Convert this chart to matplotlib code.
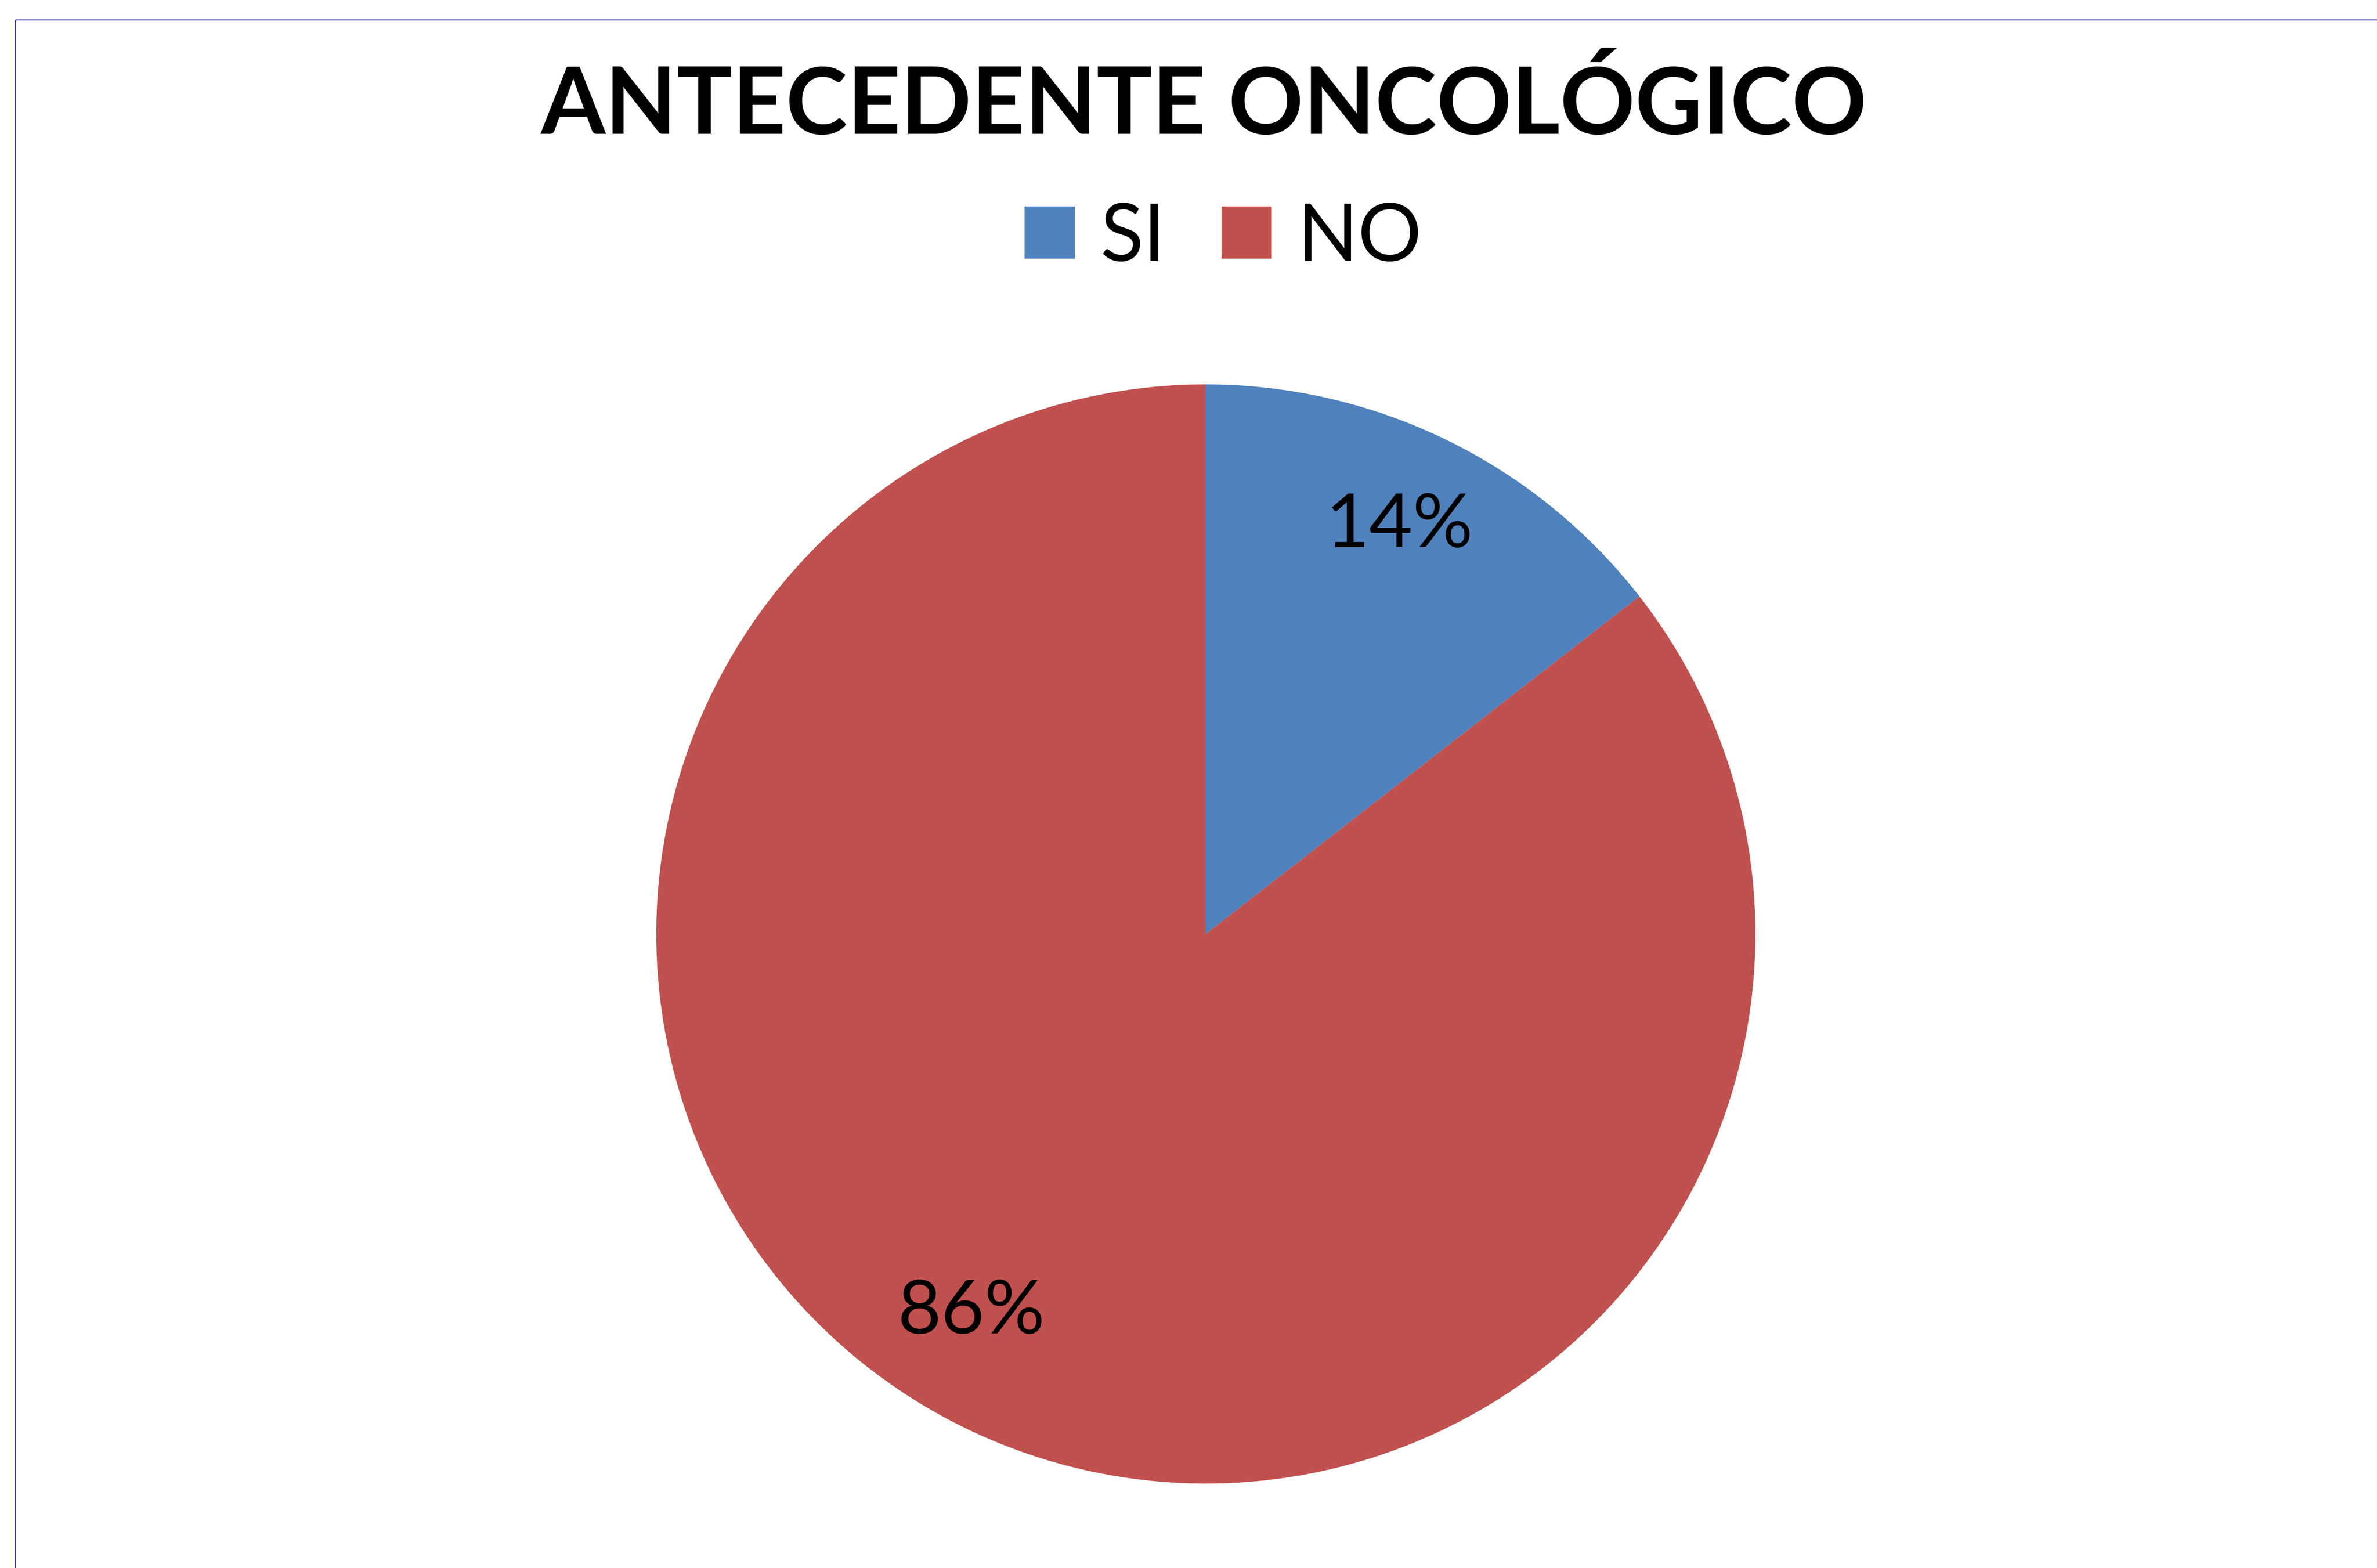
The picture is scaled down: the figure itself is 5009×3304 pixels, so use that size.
import matplotlib
matplotlib.use("Agg")
import matplotlib.pyplot as plt
from matplotlib.lines import Line2D

# ---- data ----
categories = ["SI", "NO"]
values = [14.47, 85.53]
title = "ANTECEDENTE ONCOLÓGICO"

# ---- style ----
colors = ["#4F81BD", "#C0504D"]
FONT = "Lato"
W, H = 5009, 3305
DPI = 100

fig = plt.figure(figsize=(W / DPI, H / DPI), dpi=DPI)
fig.patch.set_facecolor("white")

# chart-area border (top and left edges visible in the crop)
bx, by = 33 / W, 1 - 43 / H
fig.add_artist(Line2D([bx, bx], [0, by], transform=fig.transFigure,
                      color="#1F1F7A", lw=1.6, solid_capstyle="butt"))
fig.add_artist(Line2D([bx, 1], [by, by], transform=fig.transFigure,
                      color="#1F1F7A", lw=1.6, solid_capstyle="butt"))

# pie
cx, cy, r = 2541, 1969, 1158
ax = fig.add_axes([(cx - r) / W, (H - cy - r) / H, 2 * r / W, 2 * r / H])
wedges, texts, autotexts = ax.pie(
    values, colors=colors, startangle=90, counterclock=False,
    autopct=lambda p: f"{p:.0f}%", pctdistance=0.82,
    wedgeprops=dict(linewidth=0),
    textprops=dict(fontsize=114, fontfamily=FONT, color="black"))
ax.set_xlim(-1, 1)
ax.set_ylim(-1, 1)
ax.set_aspect("equal")
ax.axis("off")

# label placement (fraction of radius), as in the reference
label_pos = [(0.352, 0.743), (-0.427, -0.688)]
for t, (px, py) in zip(autotexts, label_pos):
    t.set_position((px, py))
    t.set_va("center")
    t.set_ha("center")

# title
fig.text(2537 / W, 1 - 282 / H, title, ha="center", va="baseline",
         fontsize=141, fontweight="bold", fontfamily=FONT, color="black")

# legend
leg = fig.legend(wedges, categories, loc="center",
                 bbox_to_anchor=(2578 / W, 1 - 502 / H),
                 ncol=2, frameon=False,
                 prop=dict(family=FONT, size=121),
                 handlelength=0.63, handleheight=0.63,
                 handletextpad=0.32, columnspacing=0.7,
                 borderpad=0, borderaxespad=0)

fig.savefig("out.png", dpi=DPI, facecolor="white")
